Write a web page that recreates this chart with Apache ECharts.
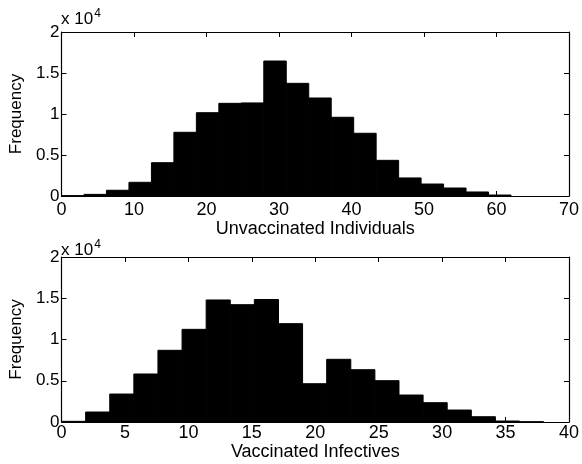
<!DOCTYPE html>
<html>
<head>
<meta charset="utf-8">
<script src="https://cdn.jsdelivr.net/npm/echarts@6/dist/echarts.min.js"></script>
<style>html,body{margin:0;padding:0;background:#fff}#c{width:582px;height:464px}</style>
</head>
<body>
<div id="c"></div>
<script>
// Top histogram: Unvaccinated Individuals
const unvaccEdges = [0, 3.1, 6.2, 9.3, 12.4, 15.5, 18.6, 21.7, 24.8, 27.9, 31, 34.1, 37.2, 40.3, 43.4, 46.5, 49.6, 52.7, 55.8, 58.9, 62];
const unvaccCounts = [40, 200, 700, 1670, 4060, 7770, 10160, 11300, 11350, 16460, 13740, 11950, 9600, 7650, 4350, 2200, 1460, 975, 490, 120];
// Bottom histogram: Vaccinated Infectives
const vaccEdges = [0, 1.9, 3.8, 5.7, 7.6, 9.5, 11.4, 13.3, 15.2, 17.1, 19, 20.9, 22.8, 24.7, 26.6, 28.5, 30.4, 32.3, 34.2, 36.1, 38];
const vaccCounts = [80, 1210, 3390, 5820, 8690, 11230, 14790, 14220, 14850, 11920, 4640, 7600, 6340, 5010, 3270, 2340, 1450, 640, 120, 30];
// Axis ranges / ticks
const unvaccXTicks = [0, 70, 10];
const vaccXTicks = [0, 40, 5];
const freqTicks = [0, 20000, 5000];
const yLabelScale = 10000;
const xLabel1 = 'Unvaccinated Individuals';
const xLabel2 = 'Vaccinated Infectives';
const yLabel = 'Frequency';

const FONT = 'Liberation Sans, Arial, Helvetica, sans-serif';
const FSX = 18;
const FSY = 17;

function histData(edges, counts) {
  return counts.map((c, i) => [edges[i], edges[i + 1], c]);
}
function renderBar(params, api) {
  const p0 = api.coord([api.value(0), api.value(2)]);
  const p1 = api.coord([api.value(1), 0]);
  return {
    type: 'rect',
    shape: { x: p0[0], y: p0[1], width: p1[0] - p0[0], height: p1[1] - p0[1] },
    style: { fill: '#000', stroke: '#000', lineWidth: 1 }
  };
}

const grids = [
  { left: 60, right: 10, top: 32, height: 164 },
  { left: 60, right: 10, top: 257, height: 165 }
];

function xAxes(gi, t, name, margin, gap) {
  const base = {
    gridIndex: gi, type: 'value', min: t[0], max: t[1], interval: t[2],
    axisLine: { show: true, onZero: false, lineStyle: { color: '#000', width: 1.2 } },
    axisTick: { show: true, inside: true, length: 5, lineStyle: { color: '#000', width: 1 } },
    splitLine: { show: false }
  };
  return [
    Object.assign({}, base, {
      position: 'bottom',
      axisLabel: { color: '#000', fontSize: FSX, fontFamily: FONT, margin: margin },
      name: name, nameLocation: 'middle', nameGap: gap,
      nameTextStyle: { color: '#000', fontSize: FSX, fontFamily: FONT }
    }),
    Object.assign({}, base, { position: 'top', axisLabel: { show: false } })
  ];
}
function yAxes(gi, t) {
  const base = {
    gridIndex: gi, type: 'value', min: t[0], max: t[1], interval: t[2],
    axisLine: { show: true, onZero: false, lineStyle: { color: '#000', width: 1.2 } },
    axisTick: { show: true, inside: true, length: 5, lineStyle: { color: '#000', width: 1 } },
    splitLine: { show: false }
  };
  return [
    Object.assign({}, base, {
      position: 'left',
      axisLabel: { color: '#000', fontSize: FSY, fontFamily: FONT, margin: 2,
        formatter: v => String(v / yLabelScale) },
      name: yLabel, nameLocation: 'middle', nameGap: 33, nameRotate: 90,
      nameTextStyle: { color: '#000', fontSize: FSY, fontFamily: FONT }
    }),
    Object.assign({}, base, { position: 'right', axisLabel: { show: false } })
  ];
}

function expLabel(top) {
  return { type: 'text', left: 61, top: top,
    style: { text: '{a|x 10}{s|4}', rich: {
      a: { fontSize: FSY, fontFamily: FONT, fill: '#000', verticalAlign: 'bottom' },
      s: { fontSize: 12, fontFamily: FONT, fill: '#000', verticalAlign: 'top', padding: [0, 0, 8, 1] } } } };
}

const option = {
  animation: false,
  backgroundColor: '#fff',
  grid: grids,
  xAxis: [].concat(xAxes(0, unvaccXTicks, xLabel1, 5, 23), xAxes(1, vaccXTicks, xLabel2, 2, 21)),
  yAxis: [].concat(yAxes(0, freqTicks), yAxes(1, freqTicks)),
  series: [
    { type: 'custom', xAxisIndex: 0, yAxisIndex: 0, renderItem: renderBar,
      encode: { x: [0, 1], y: 2 }, data: histData(unvaccEdges, unvaccCounts), z: 1 },
    { type: 'custom', xAxisIndex: 2, yAxisIndex: 2, renderItem: renderBar,
      encode: { x: [0, 1], y: 2 }, data: histData(vaccEdges, vaccCounts), z: 1 }
  ],
  graphic: [expLabel(8), expLabel(239)]
};
const chart = echarts.init(document.getElementById('c'), null, { renderer: 'canvas' });
chart.setOption(option);
</script>
</body>
</html>
